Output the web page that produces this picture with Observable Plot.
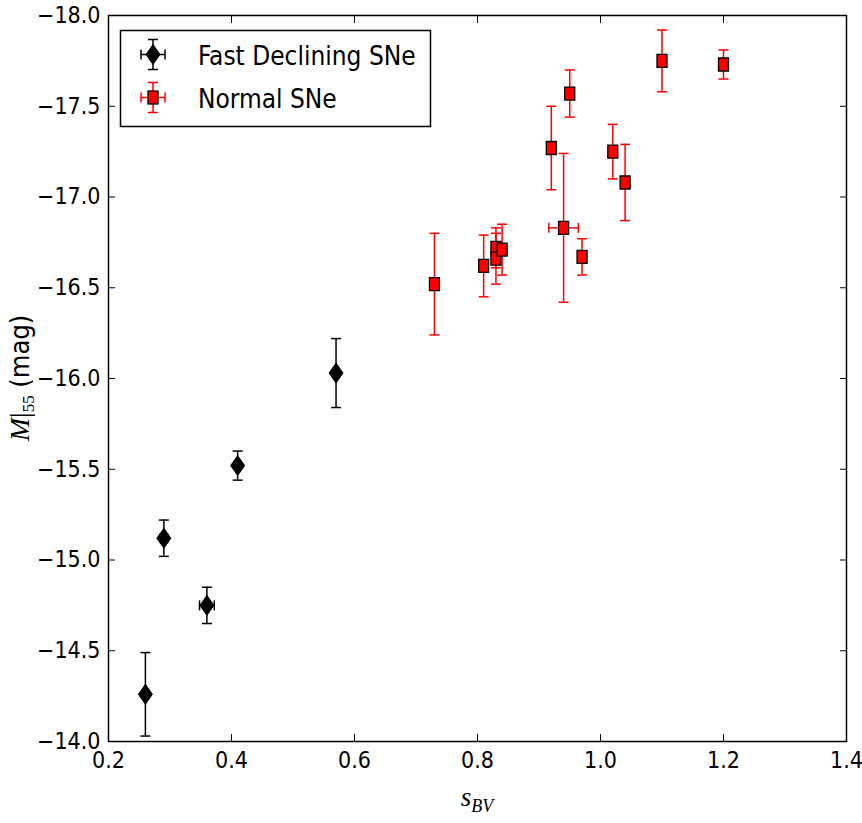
<!DOCTYPE html>
<html>
<head>
<meta charset="utf-8">
<script src="https://cdn.jsdelivr.net/npm/d3@7"></script>
<script src="https://cdn.jsdelivr.net/npm/@observablehq/plot@0.6"></script>
<style>
  html, body { margin: 0; padding: 0; background: #fff; overflow: hidden; }
  #chart svg { display: block; }
</style>
</head>
<body>
<div id="chart"></div>
<script>
// ---- data ----
const fastX    = [0.26, 0.29, 0.36, 0.41, 0.57];
const fastM    = [-14.26, -15.12, -14.75, -15.52, -16.03];
const fastErr  = [0.23, 0.10, 0.10, 0.08, 0.19];
const fastXErr = [0, 0.006, 0.012, 0, 0];

const normX    = [0.73, 0.81, 0.83, 0.83, 0.84, 0.92, 0.94, 0.95, 0.97, 1.02, 1.04, 1.10, 1.20];
const normM    = [-16.52, -16.62, -16.72, -16.66, -16.71, -17.27, -16.83, -17.57, -16.67, -17.25, -17.08, -17.75, -17.73];
const normErr  = [0.28, 0.17, 0.11, 0.14, 0.14, 0.23, 0.41, 0.13, 0.10, 0.15, 0.21, 0.17, 0.08];
const normXErr = [0, 0, 0, 0, 0, 0, 0.024, 0, 0, 0, 0, 0, 0];

const xTicks = [0.2, 0.4, 0.6, 0.8, 1.0, 1.2, 1.4];
const yTicks = [-14.0, -14.5, -15.0, -15.5, -16.0, -16.5, -17.0, -17.5, -18.0];

const seriesNames = ["Fast Declining SNe", "Normal SNe"];

// ---- tables ----
const fast = fastX.map((x, i) => ({x, m: fastM[i], e: fastErr[i], xe: fastXErr[i]}));
const norm = normX.map((x, i) => ({x, m: normM[i], e: normErr[i], xe: normXErr[i]}));

const caps = (rows) => rows.flatMap(d => [{x: d.x, m: d.m - d.e}, {x: d.x, m: d.m + d.e}]);
const xcaps = (rows) => rows.filter(d => d.xe > 0).flatMap(d => [{x: d.x - d.xe, m: d.m}, {x: d.x + d.xe, m: d.m}]);

// ---- symbols ----
const hcap = (w) => ({draw(ctx) { ctx.moveTo(-w, 0); ctx.lineTo(w, 0); }});
const vcap = (h) => ({draw(ctx) { ctx.moveTo(0, -h); ctx.lineTo(0, h); }});
const thinDiamond = {draw(ctx) { ctx.moveTo(0, -10); ctx.lineTo(7, 0); ctx.lineTo(0, 10); ctx.lineTo(-7, 0); ctx.closePath(); }};
const tallSquare = {draw(ctx) { ctx.moveTo(-5, -6.5); ctx.lineTo(5, -6.5); ctx.lineTo(5, 6.5); ctx.lineTo(-5, 6.5); ctx.closePath(); }};

const FONT = '"DejaVu Sans Condensed", "DejaVu Sans", sans-serif';
const W = 862, H = 823;
const mL = 108, mR = 16, mT = 15, mB = 82;

const plot = Plot.plot({
  width: W,
  height: H,
  marginLeft: mL,
  marginRight: mR,
  marginTop: mT,
  marginBottom: mB,
  style: {fontFamily: FONT, fontSize: "23px", fontStretch: "condensed", color: "black", background: "white"},
  x: {domain: [0.2, 1.4], label: null},
  y: {domain: [-14, -18], label: null},
  marks: [
    // ticks inward on all sides
    Plot.axisX({ticks: xTicks, anchor: "bottom", tickSize: -7, tickPadding: 17, tickFormat: d3.format(".1f"), label: null, strokeWidth: 1}),
    Plot.axisX({ticks: xTicks, anchor: "top", tickSize: -7, tickFormat: () => "", label: null, strokeWidth: 1}),
    Plot.axisY({ticks: yTicks, anchor: "left", tickSize: -7, tickPadding: 15, tickFormat: d3.format(".1f"), label: null, strokeWidth: 1}),
    Plot.axisY({ticks: yTicks, anchor: "right", tickSize: -7, tickFormat: () => "", label: null, strokeWidth: 1}),
    // fast declining: error bars
    Plot.ruleX(fast, {x: "x", y1: d => d.m - d.e, y2: d => d.m + d.e, stroke: "black", strokeWidth: 1.5}),
    Plot.ruleY(fast.filter(d => d.xe > 0), {y: "m", x1: d => d.x - d.xe, x2: d => d.x + d.xe, stroke: "black", strokeWidth: 1.5}),
    Plot.dot(caps(fast), {x: "x", y: "m", symbol: hcap(5), stroke: "black", fill: "none", strokeWidth: 1.5}),
    Plot.dot(xcaps(fast), {x: "x", y: "m", symbol: vcap(5), stroke: "black", fill: "none", strokeWidth: 1.5}),
    Plot.dot(fast, {x: "x", y: "m", symbol: thinDiamond, fill: "black", stroke: "black", strokeWidth: 1}),
    // normal: error bars
    Plot.ruleX(norm, {x: "x", y1: d => d.m - d.e, y2: d => d.m + d.e, stroke: "#ff0000", strokeWidth: 1.5}),
    Plot.ruleY(norm.filter(d => d.xe > 0), {y: "m", x1: d => d.x - d.xe, x2: d => d.x + d.xe, stroke: "#ff0000", strokeWidth: 1.5}),
    Plot.dot(caps(norm), {x: "x", y: "m", symbol: hcap(5), stroke: "#ff0000", fill: "none", strokeWidth: 1.5}),
    Plot.dot(xcaps(norm), {x: "x", y: "m", symbol: vcap(5), stroke: "#ff0000", fill: "none", strokeWidth: 1.5}),
    Plot.dot(norm, {x: "x", y: "m", symbol: tallSquare, fill: "#ff0000", stroke: "black", strokeWidth: 1.3}),
    Plot.frame({stroke: "black", strokeWidth: 1.5})
  ]
});

// ---- extra decorations: legend and math axis labels ----
const NS = "http://www.w3.org/2000/svg";
const svg = plot;
function el(tag, attrs, parent) {
  const e = document.createElementNS(NS, tag);
  for (const k in attrs) e.setAttribute(k, attrs[k]);
  (parent || svg).appendChild(e);
  return e;
}

// legend
const lg = el("g", {"text-anchor": "start"});
el("rect", {x: 120.5, y: 30.5, width: 310, height: 96, fill: "white", stroke: "black", "stroke-width": 1.5}, lg);
const legendRows = [
  {cy: 54.5, color: "black", shape: "diamond", name: seriesNames[0], base: 65},
  {cy: 97.5, color: "#ff0000", shape: "square", name: seriesNames[1], base: 108}
];
const cx = 153;
for (const r of legendRows) {
  const g = el("g", {stroke: r.color, "stroke-width": 1.5, fill: "none"}, lg);
  el("path", {d: `M${cx},${r.cy - 15}V${r.cy + 15}M${cx - 5},${r.cy - 15}H${cx + 5}M${cx - 5},${r.cy + 15}H${cx + 5}`}, g);
  el("path", {d: `M${cx - 12},${r.cy}H${cx + 12}M${cx - 12},${r.cy - 5}V${r.cy + 5}M${cx + 12},${r.cy - 5}V${r.cy + 5}`}, g);
  if (r.shape === "diamond") {
    el("path", {d: `M${cx},${r.cy - 10}L${cx + 7},${r.cy}L${cx},${r.cy + 10}L${cx - 7},${r.cy}Z`, fill: "black", stroke: "black", "stroke-width": 1}, lg);
  } else {
    el("rect", {x: cx - 5, y: r.cy - 6.5, width: 10, height: 13, fill: "#ff0000", stroke: "black", "stroke-width": 1.3}, lg);
  }
  const t = el("text", {x: 198, y: r.base, "text-anchor": "start", "font-family": FONT, "font-size": 26, "font-stretch": "condensed", fill: "black"}, lg);
  t.textContent = r.name;
}

// x label: s_BV
const xl = el("text", {x: (mL + W - mR) / 2, y: 806, "text-anchor": "middle", fill: "black", "font-family": '"Liberation Serif", serif', "font-style": "italic", "font-size": 27});
const s1 = el("tspan", {}, xl); s1.textContent = "s";
const s2 = el("tspan", {"font-size": 18, dy: 6}, xl); s2.textContent = "BV";

// y label: M|55 (mag)
const yl = el("text", {transform: `translate(29,${(mT + H - mB) / 2}) rotate(-90)`, "text-anchor": "middle", fill: "black", "font-size": 28});
const t1 = el("tspan", {"font-family": '"Liberation Serif", serif', "font-style": "italic"}, yl); t1.textContent = "M";
const t2 = el("tspan", {"font-family": '"Liberation Serif", serif'}, yl); t2.textContent = "|";
const t3 = el("tspan", {"font-family": '"Liberation Serif", serif', "font-size": 17, dy: 5}, yl); t3.textContent = "55";
const t4 = el("tspan", {"font-family": FONT, "font-stretch": "condensed", "font-size": 27, dy: -5}, yl); t4.textContent = "\u00a0(mag)";

document.getElementById("chart").appendChild(plot);
</script>
</body>
</html>
